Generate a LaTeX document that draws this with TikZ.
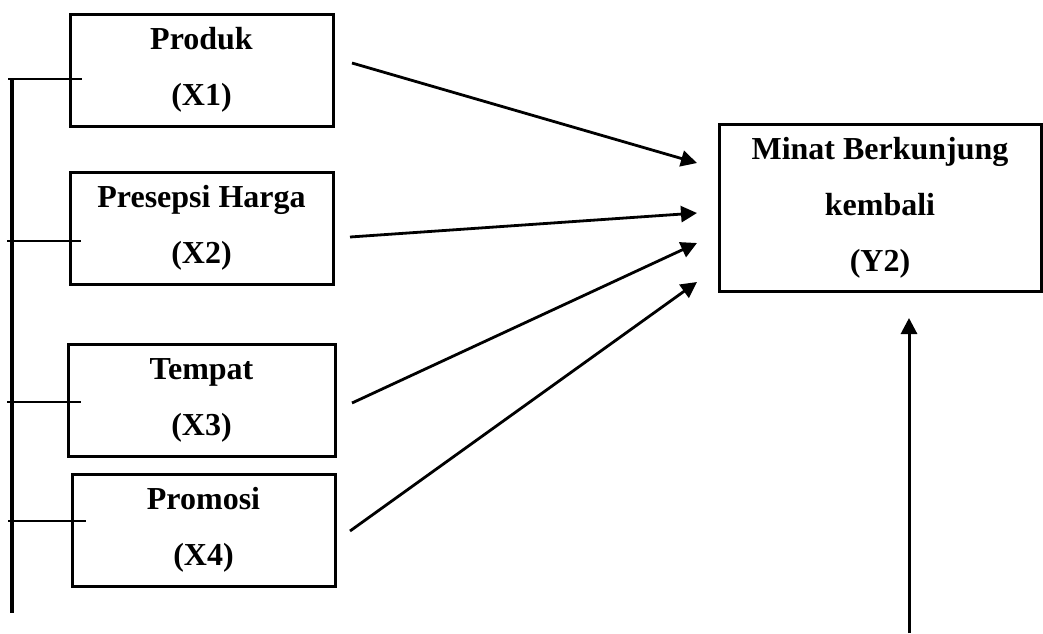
\documentclass[tikz,border=0pt]{standalone}
\usepackage{fontspec}
\setmainfont{Liberation Serif}
\usetikzlibrary{arrows.meta,positioning}

\begin{document}
\begin{tikzpicture}[
	x=1pt, y=-1pt,
	factor/.style={rectangle, draw=black, line width=3pt, minimum width=263pt, minimum height=112pt, align=center, inner sep=0pt, font=\bfseries\fontsize{32}{56}\selectfont, execute at begin node={\rule{0pt}{33pt}}},
	result/.style={factor, minimum width=322pt, minimum height=167pt},
	link/.style={-{Triangle[length=16pt,width=16pt]}, line width=2.8pt},
	busline/.style={line width=3.4pt},
	tickline/.style={line width=2.8pt}
	]
	
	\useasboundingbox (0,0) rectangle (1043,633);
	
	\node[factor] (x1) at (201.5,70) {Produk\\(X1)};
	\node[factor] (x2) at (201.5,228) {Presepsi Harga\\(X2)};
	\node[factor, minimum width=267pt] (x3) at (201.5,400) {Tempat\\(X3)};
	\node[factor] (x4) at (203.5,530) {Promosi\\(X4)};
	\node[result] (y2) at (880,207.5) {Minat Berkunjung\\kembali\\(Y2)};
	
	\coordinate (bustop) at (12,79);
	\coordinate (busend) at (12,613);
	\coordinate (t1) at (8,79);
	\coordinate (e1) at (82,79);
	\coordinate (t2) at (7,241);
	\coordinate (e2) at (81,241);
	\coordinate (t3) at (7,402);
	\coordinate (e3) at (81,402);
	\coordinate (t4) at (8,521);
	\coordinate (e4) at (86,521);
	\draw[busline] (bustop) -- (busend);
	\draw[tickline] (t1) -- (e1);
	\draw[tickline] (t2) -- (e2);
	\draw[tickline] (t3) -- (e3);
	\draw[tickline] (t4) -- (e4);
	
	\coordinate (s1) at (352,63);
	\coordinate (s2) at (350,237);
	\coordinate (s3) at (352,403);
	\coordinate (s4) at (350,531);
	\coordinate (h1) at (697,163);
	\coordinate (h2) at (697,213);
	\coordinate (h3) at (697,243);
	\coordinate (h4) at (697,282);
	\draw[link] (s1) -- (h1);
	\draw[link] (s2) -- (h2);
	\draw[link] (s3) -- (h3);
	\draw[link] (s4) -- (h4);
	
	\coordinate (up) at (909,633);
	\coordinate (uptip) at (909,318);
	\draw[link, line width=3pt] (up) -- (uptip);
	
\end{tikzpicture}
\end{document}
